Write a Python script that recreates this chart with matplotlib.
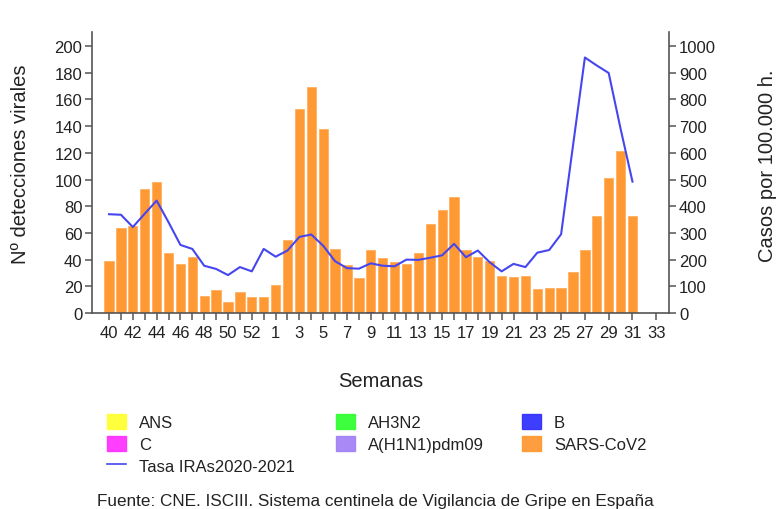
import numpy as np
import matplotlib.pyplot as plt
from matplotlib.patches import Patch
from matplotlib.lines import Line2D

plt.rcParams['font.family'] = ['Liberation Sans', 'DejaVu Sans']

# Weeks of the 2020-2021 season
weeks = list(range(40, 54)) + list(range(1, 34))

# SARS-CoV2 detections (weeks 40..31)
sars_cov2 = [39, 64, 65, 93, 98, 45, 37, 42, 13, 17, 8, 16, 12, 12,
             21, 55, 153, 169, 138, 48, 36, 26, 47, 41, 38, 37, 45, 67,
             77, 87, 47, 42, 39, 28, 27, 28, 18, 19, 19, 31, 47, 73,
             101, 121, 73]
# A(H1N1)pdm09 detections, only tiny values at weeks 7 and 9
h1n1 = [0] * 20 + [1, 0, 1] + [0] * 22

# Tasa IRAs 2020-2021 (casos por 100.000 h.)
tasa = [370, 368, 322, 372, 421, 340, 255, 240, 177, 165, 142, 172, 156, 240,
        211, 234, 285, 294, 252, 194, 168, 166, 186, 177, 175, 200, 199, 207,
        216, 259, 209, 234, 190, 156, 184, 172, 226, 236, 295, 627, 957, 927,
        899, 690, 492]

# legend columns as in the original
legend_cols = [
    (['ANS', 'C', 'Tasa IRAs2020-2021'], ['#ffff33', '#ff33ff', '#4646f0']),
    (['AH3N2', 'A(H1N1)pdm09'], ['#33ff33', '#a383f5']),
    (['B', 'SARS-CoV2'], ['#3333ff', '#ff9933']),
]

x = np.arange(len(sars_cov2))
txt = '#222222'

fig = plt.figure(figsize=(7.8, 5.1), dpi=100)
ax = fig.add_axes([0.118, 0.3843, 0.740, 0.551])

ax.bar(x, sars_cov2, width=0.78, color='#ff9933', edgecolor='#ffb060', linewidth=0.6)
ax.bar(x, h1n1, width=0.78, color='#7a3fa0', linewidth=0)

ax2 = ax.twinx()
ax2.plot(x, tasa, color='#4646f0', linewidth=1.5)

ax.set_xlim(-1.43, 47.09)
ax.set_ylim(0, 210.5)
ax2.set_ylim(0, 1052.5)
ax.set_yticks(np.arange(0, 201, 20))
ax2.set_yticks(np.arange(0, 1001, 100))

# x ticks: every week up to 19, then odd weeks only; label every other
tick_pos = [i for i, w in enumerate(weeks) if i <= 33 or w % 2 == 1]
ax.set_xticks(tick_pos)
ax.set_xticklabels([str(weeks[i]) if i % 2 == 0 else '' for i in tick_pos])

spine_col = '#555555'
for a in (ax, ax2):
    a.spines['top'].set_visible(False)
    for s in ('left', 'right', 'bottom'):
        a.spines[s].set_color(spine_col)
        a.spines[s].set_linewidth(1.2)
    a.tick_params(colors=spine_col, labelcolor=txt, labelsize=12, length=5, width=1.1)
ax.spines['right'].set_visible(False)
ax2.spines['left'].set_visible(False)
ax2.spines['bottom'].set_visible(False)
ax.tick_params(axis='y', pad=2)
ax2.tick_params(axis='y', pad=2)

ax.set_ylabel('Nº detecciones virales', fontsize=14.5, color=txt)
ax.yaxis.set_label_coords(-0.1075, 0.534)
ax2.set_ylabel('Casos por 100.000 h.', fontsize=14.5, color=txt)
ax2.yaxis.set_label_coords(1.154, 0.527)
ax.set_xlabel('Semanas', fontsize=14.5, color=txt)
ax.xaxis.set_label_coords(0.5, -0.205)

col_x = [0.1372, 0.4308, 0.6692]
for (names, cols), lx in zip(legend_cols, col_x):
    handles = []
    for name, col in zip(names, cols):
        if name.startswith('Tasa'):
            handles.append(Line2D([0], [0], color=col, linewidth=1.2))
        else:
            handles.append(Patch(facecolor=col, edgecolor=col, alpha=0.95))
    leg = fig.legend(handles, names, loc='upper left', bbox_to_anchor=(lx, 0.187),
                     frameon=False, fontsize=12, borderpad=0, borderaxespad=0,
                     handlelength=1.14, handleheight=1.08, handletextpad=0.78,
                     labelspacing=0.32)
    for t in leg.get_texts():
        t.set_color(txt)

fig.text(0.124, 0.0157, 'Fuente: CNE. ISCIII. Sistema centinela de Vigilancia de Gripe en España',
         fontsize=12.3, color=txt, va='center')

fig.savefig('out.png', dpi=100)
